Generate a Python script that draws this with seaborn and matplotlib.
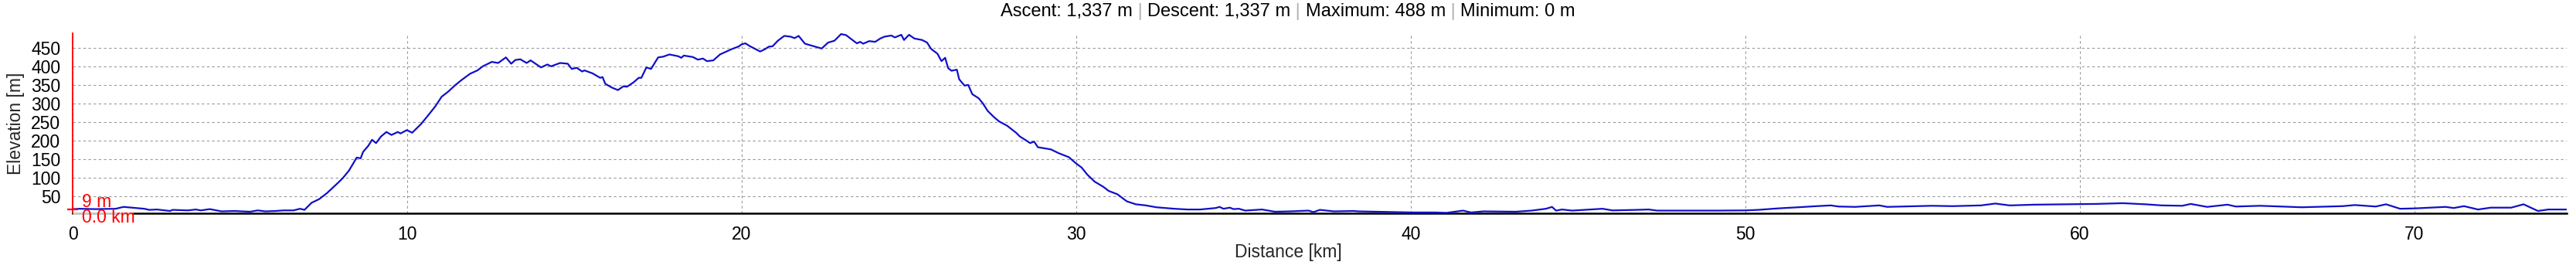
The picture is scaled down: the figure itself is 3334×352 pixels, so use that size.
import numpy as np
import pandas as pd
import matplotlib
matplotlib.use("Agg")
import matplotlib.pyplot as plt
import seaborn as sns
from matplotlib.offsetbox import TextArea, HPacker, AnchoredOffsetbox

# ---------------- data ----------------
distance_km = [
    0, 0.2, 0.68, 1.29, 1.52, 1.76, 2.14, 2.29, 2.52, 2.91, 2.99, 3.45, 3.68, 3.83, 4.1, 4.45, 4.83, 5.3, 5.53,
    5.76, 6.07, 6.3, 6.6, 6.8, 6.93, 7.14, 7.37, 7.6, 7.91, 8.07, 8.26, 8.38, 8.49, 8.61, 8.68, 8.84, 8.95, 9.07,
    9.22, 9.38,
    9.53, 9.72, 9.8, 9.99, 10.15, 10.41, 10.61, 10.84, 11.03, 11.23, 11.42, 11.61, 11.88, 12.1, 12.26, 12.53,
    12.72, 12.95, 13.11, 13.23, 13.38, 13.57, 13.69, 14.0, 14.19, 14.3, 14.57, 14.8, 14.92, 15.07, 15.23, 15.3,
    15.54, 15.77, 15.84, 15.92, 16.11, 16.3, 16.46, 16.57, 16.77, 16.92, 17.0, 17.15, 17.29, 17.5, 17.65, 17.84,
    18.11, 18.19, 18.27, 18.54, 18.69, 18.84, 18.96,
    19.15, 19.35, 19.69, 19.92, 19.99, 20.11, 20.23, 20.38, 20.55, 20.69, 20.81, 20.92, 21.08, 21.27, 21.46,
    21.58, 21.7, 21.89, 22.08, 22.23, 22.39, 22.58, 22.77, 22.97, 23.12, 23.31, 23.44, 23.54, 23.63, 23.81,
    23.99, 24.14, 24.27, 24.47, 24.58, 24.77, 24.85, 25.0, 25.16, 25.39, 25.54, 25.66, 25.85, 25.97, 26.08,
    26.17, 26.27, 26.43, 26.5, 26.66, 26.77, 26.89, 27.08, 27.2, 27.35, 27.54, 27.7, 27.93, 28.2,
    28.31, 28.47, 28.62, 28.74, 28.85, 29.24, 29.47, 29.78, 29.97, 30.16, 30.33, 30.55, 30.81, 30.97, 31.23,
    31.51, 31.78, 32.08, 32.39, 32.93, 33.32, 33.7, 34.17, 34.28, 34.4, 34.59, 34.7, 34.86, 35.05, 35.55, 35.94,
    36.4, 36.94, 37.09, 37.28,
    37.7, 38.3, 38.42, 39.5, 40.05, 40.72, 41.07, 41.56, 41.8, 42.17, 43.13, 43.61, 44.04, 44.22, 44.34, 44.52,
    44.82, 45.73, 46.03, 46.75, 47.11, 47.36, 49.17, 50.0, 50.38, 50.98, 51.58, 52.13, 52.55, 52.79, 53.28,
    54.0, 54.24, 55.2,
    55.57, 56.18, 57.04, 57.47, 57.9, 58.64, 59.62, 60.48, 61.28, 61.96, 62.45, 63.06, 63.31, 63.8, 64.41,
    64.66, 65.39, 66.63, 67.85, 68.22, 68.84, 69.15, 69.57, 70.02, 70.93, 71.17, 71.48, 71.9, 72.28, 72.89,
    73.26, 73.69, 74.0, 74.55,
]
elevation_m = [
    16, 17, 16, 17, 22, 20, 17, 14, 15, 11, 14, 12.5, 15, 12.5, 16, 10, 11, 9, 12.5,
    10, 11, 12.5, 12.5, 17, 14, 33, 43, 59, 85, 99, 120, 138, 155, 153, 170, 187, 203, 194,
    212, 224,
    216, 224, 220, 229, 222, 245, 267, 293, 319, 333, 349, 363, 381, 390, 401, 413,
    410, 425, 408, 418, 420, 410, 417, 398, 406, 401, 410, 408, 394, 397, 387, 390,
    382, 370, 372, 354, 344, 337, 347, 346, 358, 370, 370, 398, 394, 425, 427, 433,
    428, 424, 430, 426, 419, 422, 415,
    417, 433, 447, 455, 460, 463, 456, 449, 441, 447, 454, 455, 470, 483, 481,
    477, 483, 462, 457, 453, 449, 465, 470, 488, 485, 472, 463, 467, 462, 469,
    467, 476, 481, 484, 479, 486, 472, 486, 476, 472, 465, 448, 435, 415, 424,
    396, 389, 392, 366, 349, 351, 326, 315, 302, 281, 264, 252, 241, 222,
    212, 203, 194, 198, 183, 177, 167, 156, 141, 128, 109, 90, 76, 65, 56,
    37, 29, 26, 21, 17, 15, 15, 19, 22, 17, 20, 16, 17, 12, 15, 9,
    10, 12, 8, 14,
    10, 11, 10, 8, 7, 7, 6, 12, 7, 10, 9, 12, 17, 22, 12, 15,
    12, 17, 12.5, 14, 15, 12, 12, 12.5, 14, 18, 21, 24, 26, 23, 22,
    26, 22, 24,
    25, 24, 26, 31, 26, 28, 29, 30, 32, 29, 26, 25, 30, 22, 28,
    23, 25, 21, 24, 27, 23, 29, 17, 18, 22, 19, 24, 15, 20, 20,
    29, 11, 15, 15,
]
x_ticks = [0, 10, 20, 30, 40, 50, 60, 70]
y_ticks = [50, 100, 150, 200, 250, 300, 350, 400, 450]
title_parts = ["Ascent: 1,337 m", "Descent: 1,337 m", "Maximum: 488 m", "Minimum: 0 m"]
cursor_elev_label = "9 m"
cursor_dist_label = "0.0 km"
cursor_bar_km = 1.8
x_label = "Distance [km]"
y_label = "Elevation [m]"

# ---------------- style ----------------
sns.set_style("white")
plt.rcParams['font.family'] = ['Liberation Sans', 'DejaVu Sans']
FS = 16.5

W, H = 3334, 352
fig = plt.figure(figsize=(W / 100, H / 100), dpi=100)
ax_left, ax_right, ax_top, ax_bottom = 94, 3322, 43.3, 276
ax = fig.add_axes([ax_left / W, 1 - ax_bottom / H, (ax_right - ax_left) / W, (ax_bottom - ax_top) / H])

df = pd.DataFrame({"km": distance_km, "elev": elevation_m})
sns.lineplot(data=df, x="km", y="elev", ax=ax, color="#1010c8", linewidth=1.6, zorder=3, sort=False)

ax.set_xlim(0, max(distance_km))
ax.set_ylim(4.8, 489.6)
ax.set_xticks(x_ticks)
ax.set_yticks(y_ticks)
ax.set_xlabel("")
ax.set_ylabel("")

ax.grid(True, color="#999999", linewidth=0.8, linestyle=(0, (3, 3)))
ax.set_axisbelow(True)

for s in ("top", "right"):
    ax.spines[s].set_visible(False)
ax.spines["left"].set_color("red")
ax.spines["left"].set_linewidth(1.3)
ax.spines["bottom"].set_color("black")
ax.spines["bottom"].set_linewidth(1.8)

ax.tick_params(axis="both", direction="inout", length=8.6, width=1.8, color="black",
               labelsize=FS, labelcolor="black")
ax.tick_params(axis="y", pad=7)
ax.tick_params(axis="x", pad=7)

# axis labels
fig.text(21 / W, 1 - 160 / H, y_label, rotation=90, ha="center", va="center", fontsize=FS)
fig.text(0.5, 1 - 327 / H, x_label, ha="center", va="center", fontsize=FS)

# title with grey separators
TFS = 17
children = []
for i, part in enumerate(title_parts):
    if i > 0:
        children.append(TextArea(" | ", textprops=dict(color="#b0b0b0", fontsize=TFS)))
    children.append(TextArea(part, textprops=dict(color="black", fontsize=TFS)))
pack = HPacker(children=children, align="baseline", pad=0, sep=0)
anch = AnchoredOffsetbox(loc="center", child=pack, pad=0, frameon=False,
                         bbox_to_anchor=(0.5, 1 - 15 / H), bbox_transform=fig.transFigure, borderpad=0)
fig.add_artist(anch)

# cursor at start
x0, y0 = distance_km[0], elevation_m[0]
ax.plot([0, cursor_bar_km], [ax.get_ylim()[0]] * 2, color="#c8c8c8", lw=2.2, zorder=5, clip_on=False,
        solid_capstyle="butt")
ax.plot([x0], [y0], marker="_", markersize=10, mew=1.6, color="red", clip_on=False, zorder=6)
ax.annotate(cursor_elev_label, (x0, y0), xytext=(8.6, 6.5), textcoords="offset points",
            ha="left", va="center", color="red", fontsize=FS, zorder=7, annotation_clip=False)
ax.annotate(cursor_dist_label, (x0, y0), xytext=(8.6, -7.5), textcoords="offset points",
            ha="left", va="center", color="red", fontsize=FS, zorder=7, annotation_clip=False)

fig.savefig("out.png", dpi=100)
